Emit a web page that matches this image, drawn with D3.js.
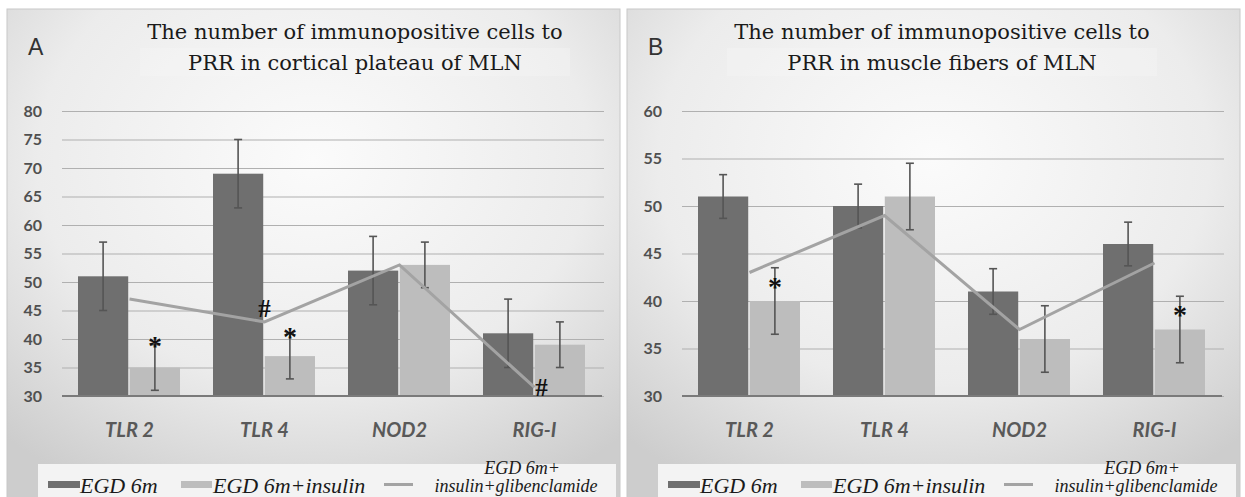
<!doctype html>
<html>
<head>
<meta charset="utf-8">
<title>PRR immunopositive cells</title>
<style>
body{ margin:0; background:#ffffff; }
</style>
</head>
<body>
<svg></svg>
<script src="https://cdn.jsdelivr.net/npm/d3@7"></script>
<script>
// ---- data ----
var categories = ["TLR 2", "TLR 4", "NOD2", "RIG-I"];
var seriesNames = ["EGD 6m", "EGD 6m+insulin", "EGD 6m+", "insulin+glibenclamide"];

// panel A : cortical plateau
var cortEgd     = [51, 69, 52, 41];
var cortEgdErr  = [6, 6, 6, 6];
var cortIns     = [35, 37, 53, 39];
var cortInsErr  = [4, 4, 4, 4];
var cortGlib    = [47, 43, 53, 31.5];
var cortTicks   = [30, 35, 40, 45, 50, 55, 60, 65, 70, 75, 80];
var cortMarks   = [
  {cat: "TLR 2", on: "ins",  val: 40.7, sym: "*"},
  {cat: "TLR 4", on: "glib", val: 45.4, sym: "#"},
  {cat: "TLR 4", on: "ins",  val: 42.3, sym: "*"},
  {cat: "RIG-I", on: "glib", val: 31.6, sym: "#"}
];

// panel B : muscle fibers
var musEgd     = [51, 50, 41, 46];
var musEgdErr  = [2.3, 2.3, 2.4, 2.3];
var musIns     = [40, 51, 36, 37];
var musInsErr  = [3.5, 3.5, 3.5, 3.5];
var musGlib    = [43, 49, 37, 44];
var musTicks   = [30, 35, 40, 45, 50, 55, 60];
var musMarks   = [
  {cat: "TLR 2", on: "ins", val: 42.6, sym: "*"},
  {cat: "RIG-I", on: "ins", val: 39.7, sym: "*"}
];

var width = 1245, height = 497;
var cDark = "#6f6f6f", cLight = "#bdbdbd", cLine = "#a3a3a3", cErr = "#555555", cText = "#595959";

var svg = d3.select("svg").attr("width", width).attr("height", height);
var defs = svg.append("defs");
var grad = defs.append("radialGradient").attr("id", "bg")
    .attr("cx", "50%").attr("cy", "30%").attr("r", "75%");
grad.append("stop").attr("offset", "0%").attr("stop-color", "#fbfbfb");
grad.append("stop").attr("offset", "60%").attr("stop-color", "#ececec");
grad.append("stop").attr("offset", "100%").attr("stop-color", "#cdcdcd");

function drawPanel(opt) {
  var g = svg.append("g").attr("transform", "translate(" + opt.dx + ",0)");

  // frame
  g.append("rect").attr("x", 7).attr("y", 9).attr("width", 613).attr("height", 500)
      .attr("fill", "url(#bg)").attr("stroke", "#c8c8c8").attr("stroke-width", 1);

  var x0 = d3.scaleBand().domain(categories).range([62, 602]);
  var x1 = d3.scaleBand().domain(["egd", "ins"]).range([16, 118]).paddingInner(0.03);
  var y = d3.scaleLinear().domain([opt.ticks[0], opt.ticks[opt.ticks.length - 1]]).range([396, 111]);

  // gridlines
  g.append("g").attr("transform", "translate(62,0)")
      .call(d3.axisLeft(y).tickValues(opt.ticks).tickSize(-542).tickFormat(""))
      .call(function (s) {
        s.select(".domain").remove();
        s.selectAll("line").attr("stroke", "#b0b0b0").attr("stroke-width", 1.2);
      });

  // y tick labels
  g.append("g").attr("transform", "translate(42,0)")
      .call(d3.axisLeft(y).tickValues(opt.ticks).tickSize(0).tickPadding(0))
      .call(function (s) {
        s.select(".domain").remove();
        s.selectAll("text").attr("fill", "#505050").style("font-family", "Lato, sans-serif")
            .style("font-weight", "bold").style("font-size", "16px");
      });

  var rows = categories.map(function (c, i) {
    return {cat: c, egd: opt.egd[i], egdErr: opt.egdErr[i], ins: opt.ins[i], insErr: opt.insErr[i], glib: opt.glib[i]};
  });

  var groups = g.selectAll("g.cat").data(rows).enter().append("g")
      .attr("transform", function (d) { return "translate(" + x0(d.cat) + ",0)"; });

  ["egd", "ins"].forEach(function (k) {
    groups.append("rect")
        .attr("x", x1(k)).attr("width", x1.bandwidth())
        .attr("y", function (d) { return y(d[k]); })
        .attr("height", function (d) { return y(opt.ticks[0]) - y(d[k]); })
        .attr("fill", k === "egd" ? cDark : cLight);
  });

  // baseline axis
  g.append("line").attr("x1", 62).attr("x2", 602).attr("y1", y(opt.ticks[0])).attr("y2", y(opt.ticks[0]))
      .attr("stroke", "#7a7a7a").attr("stroke-width", 2);

  // third series as line
  var line = d3.line()
      .x(function (d) { return x0(d.cat) + x0.bandwidth() / 2; })
      .y(function (d) { return y(d.glib); });
  g.append("path").datum(rows).attr("d", line)
      .attr("fill", "none").attr("stroke", cLine).attr("stroke-width", 3);

  // error bars
  ["egd", "ins"].forEach(function (k) {
    var e = groups.append("g").attr("stroke", cErr).attr("stroke-width", 1.6);
    var cx = x1(k) + x1.bandwidth() / 2;
    e.append("line").attr("x1", cx).attr("x2", cx)
        .attr("y1", function (d) { return y(d[k] + d[k + "Err"]); })
        .attr("y2", function (d) { return y(d[k] - d[k + "Err"]); });
    e.append("line").attr("x1", cx - 4).attr("x2", cx + 4)
        .attr("y1", function (d) { return y(d[k] + d[k + "Err"]); })
        .attr("y2", function (d) { return y(d[k] + d[k + "Err"]); });
    e.append("line").attr("x1", cx - 4).attr("x2", cx + 4)
        .attr("y1", function (d) { return y(d[k] - d[k + "Err"]); })
        .attr("y2", function (d) { return y(d[k] - d[k + "Err"]); });
  });

  // significance marks
  g.selectAll("text.mark").data(opt.marks).enter().append("text")
      .attr("x", function (d) {
        return d.on === "ins" ? x0(d.cat) + x1("ins") + x1.bandwidth() / 2 : x0(d.cat) + x0.bandwidth() / 2 + (d.cat === "RIG-I" ? 7 : 0);
      })
      .attr("y", function (d) { return y(d.val); })
      .attr("dy", function (d) { return d.sym === "*" ? "0.72em" : "0.35em"; })
      .attr("text-anchor", "middle")
      .attr("fill", "#111")
      .style("font-family", "'Liberation Serif', serif").style("font-weight", "bold")
      .style("font-size", function (d) { return d.sym === "*" ? "28px" : "25px"; })
      .text(function (d) { return d.sym; });

  // category labels
  g.selectAll("text.cat").data(categories).enter().append("text")
      .attr("x", function (d) { return x0(d) + x0.bandwidth() / 2; })
      .attr("y", 437)
      .attr("text-anchor", "middle")
      .attr("fill", cText)
      .style("font-family", "Lato, sans-serif").style("font-weight", "bold")
      .style("font-style", "italic").style("font-size", "20px")
      .text(function (d) { return d; });

  // panel letter
  g.append("text").attr("x", 28).attr("y", 55).attr("fill", "#333")
      .style("font-family", "'Liberation Sans', sans-serif").style("font-size", "23px")
      .text(opt.letter);

  // title
  g.append("rect").attr("x", opt.titleX - 215).attr("y", 48).attr("width", 430).attr("height", 28)
      .attr("fill", "#f7f7f7").attr("opacity", 0.35);
  opt.title.forEach(function (t, i) {
    g.append("text").attr("x", opt.titleX).attr("y", 39 + i * 31)
        .attr("text-anchor", "middle").attr("fill", "#1a1a1a")
        .style("font-family", "'DejaVu Serif', serif").style("font-size", "21px")
        .text(t);
  });

  // legend
  var lg = g.append("g");
  lg.append("rect").attr("x", 38).attr("y", 464).attr("width", 578).attr("height", 40).attr("fill", "#f3f3f3");
  lg.append("rect").attr("x", 48).attr("y", 481).attr("width", 32).attr("height", 7).attr("fill", cDark);
  lg.append("rect").attr("x", 181).attr("y", 481).attr("width", 31).attr("height", 7).attr("fill", cLight);
  lg.append("line").attr("x1", 384).attr("x2", 413).attr("y1", 484.5).attr("y2", 484.5)
      .attr("stroke", cLine).attr("stroke-width", 3);
  var legText = [
    {t: seriesNames[0], x: 80, y: 493, s: 22, a: "start"},
    {t: seriesNames[1], x: 213, y: 493, s: 22, a: "start"},
    {t: seriesNames[2], x: 522, y: 474, s: 18, a: "middle"},
    {t: seriesNames[3], x: 516, y: 492, s: 18, a: "middle"}
  ];
  lg.selectAll("text").data(legText).enter().append("text")
      .attr("x", function (d) { return d.x; }).attr("y", function (d) { return d.y; })
      .attr("text-anchor", function (d) { return d.a; })
      .attr("fill", "#1a1a1a")
      .style("font-family", "'Liberation Serif', serif").style("font-style", "italic")
      .style("font-size", function (d) { return d.s + "px"; })
      .text(function (d) { return d.t; });
}

drawPanel({dx: 0, letter: "A", titleX: 355,
  title: ["The number of immunopositive cells to", "PRR in cortical plateau of MLN"],
  egd: cortEgd, egdErr: cortEgdErr, ins: cortIns, insErr: cortInsErr, glib: cortGlib,
  ticks: cortTicks, marks: cortMarks});

drawPanel({dx: 620, letter: "B", titleX: 322,
  title: ["The number of immunopositive cells to", "PRR in muscle fibers of MLN"],
  egd: musEgd, egdErr: musEgdErr, ins: musIns, insErr: musInsErr, glib: musGlib,
  ticks: musTicks, marks: musMarks});
</script>
</body>
</html>
